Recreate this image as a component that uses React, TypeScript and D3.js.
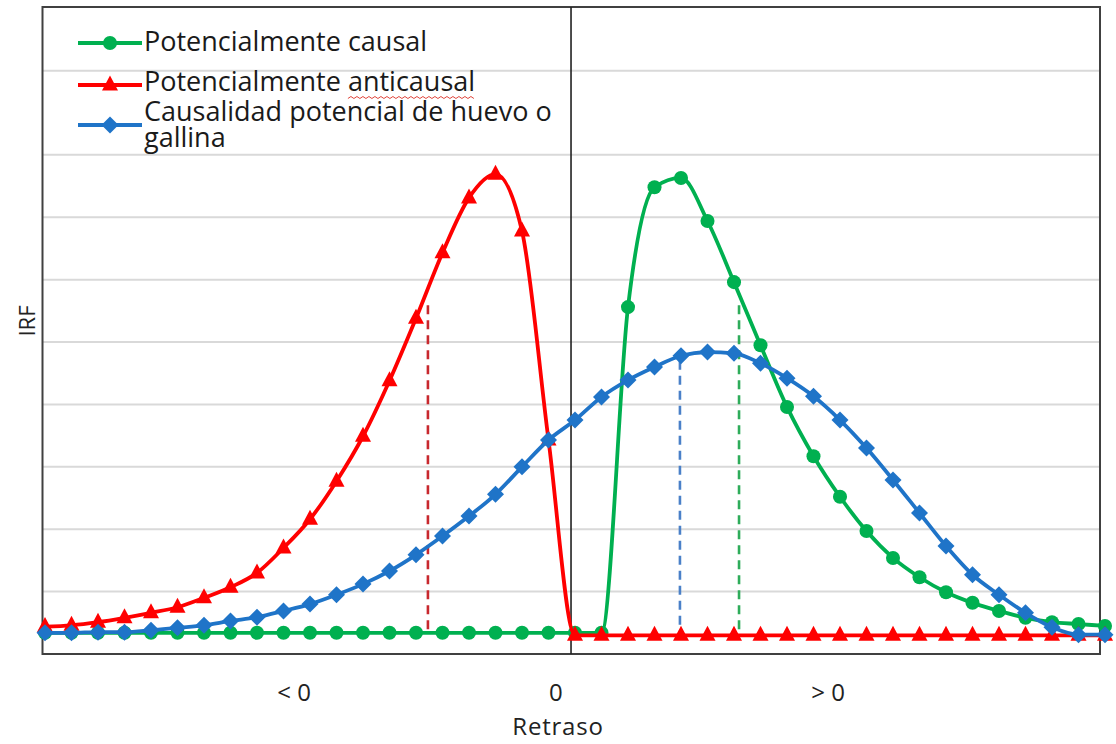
import React, { useEffect, useLayoutEffect, useRef, useState } from "react";
import * as d3 from "d3";

// lag categories (Retraso)
const lags = [
  -20, -19, -18, -17, -16, -15, -14, -13, -12, -11, -10, -9, -8, -7, -6, -5, -4, -3, -2, -1,
  0, 1, 2, 3, 4, 5, 6, 7, 8, 9, 10, 11, 12, 13, 14, 15, 16, 17, 18, 19, 20,
];

// IRF values (grid units)
const causal = [
  0.34, 0.34, 0.34, 0.34, 0.34, 0.34, 0.34, 0.34, 0.34, 0.34, 0.34, 0.34, 0.34, 0.34, 0.34, 0.34,
  0.34, 0.34, 0.34, 0.34, 0.34, 0.34, 5.56, 7.48, 7.63, 6.94, 5.96, 4.95, 3.96, 3.17, 2.52, 1.97,
  1.54, 1.23, 0.99, 0.82, 0.69, 0.58, 0.51, 0.48, 0.45,
];
const anticausal = [
  0.44, 0.46, 0.51, 0.58, 0.66, 0.75, 0.9, 1.07, 1.3, 1.7, 2.16, 2.77, 3.49, 4.38, 5.38, 6.43,
  7.31, 7.69, 6.78, 3.43, 0.3, 0.3, 0.3, 0.3, 0.3, 0.3, 0.3, 0.3, 0.3, 0.3, 0.3, 0.3, 0.3, 0.3,
  0.3, 0.3, 0.3, 0.3, 0.3, 0.3, 0.3,
];
const eggChicken = [
  0.34, 0.34, 0.35, 0.35, 0.38, 0.42, 0.46, 0.53, 0.59, 0.69, 0.8, 0.95, 1.12, 1.33, 1.59, 1.89,
  2.21, 2.56, 3.0, 3.43, 3.75, 4.12, 4.39, 4.6, 4.78, 4.84, 4.82, 4.66, 4.42, 4.13, 3.75, 3.3,
  2.79, 2.26, 1.73, 1.27, 0.95, 0.66, 0.43, 0.31, 0.31,
];

const seriesNames = [
  "Potencialmente causal",
  "Potencialmente anticausal",
  "Causalidad potencial de huevo o gallina",
];

// dashed drop lines (lag position, height)
const dropLags = [-5.55, 3.96, 6.19];
const dropTops = [5.59, 4.7, 5.59];
const dropBase = 0.34;

const gridValues = [1, 2, 3, 4, 5, 6, 7, 8, 9.35];
const xLabels = ["< 0", "0", "> 0"];
const xLabelAt = [-10.6, -0.72, 9.55];

const W = 1116;
const H = 744;
const frame = { left: 42.5, right: 1100, top: 7, bottom: 654 };
const font = "'Open Sans', sans-serif";

const colors = ["#00b050", "#ff0000", "#1f74c8"];
const dropColors = ["#c8282e", "#4a80c8", "#2eac5a"];

const circlePath = d3.symbol(d3.symbolCircle, 155)()!;
const trianglePath = "M0,-9.5L8,5.5L-8,5.5Z";
const diamondPath = "M0,-8.5L8.5,0L0,8.5L-8.5,0Z";
const markerPaths = [circlePath, trianglePath, diamondPath];

export default function App() {
  const antiRef = useRef<SVGTextElement>(null);
  const [squiggle, setSquiggle] = useState<[number, number] | null>(null);

  useEffect(() => {
    document.body.style.margin = "0";
  }, []);

  // spell-check style wavy underline under "anticausal"
  useLayoutEffect(() => {
    const el = antiRef.current;
    if (!el) return;
    const start = seriesNames[1].indexOf("anticausal");
    const x0 = el.getStartPositionOfChar(start).x;
    const len = el.getSubStringLength(start, "anticausal".length);
    setSquiggle([x0, x0 + len]);
  }, []);

  const x = d3.scaleLinear().domain([-20, 20]).range([45, 1105]);
  const y = d3.scaleLinear().domain([0, 10.37]).range([654, 7]);

  const line = d3
    .line<number>()
    .x((_, i) => x(lags[i]))
    .y((d) => y(d))
    .curve(d3.curveMonotoneX);

  const allSeries = [causal, anticausal, eggChicken];

  let wave = "";
  if (squiggle) {
    const n = Math.floor((squiggle[1] - squiggle[0]) / 3);
    for (let k = 0; k <= n; k++) {
      wave += `${k === 0 ? "M" : "L"}${squiggle[0] + k * 3},${k % 2 ? 96.5 : 98.5}`;
    }
  }

  return (
    <svg width={W} height={H} style={{ display: "block", background: "#fff" }}>
      {/* gridlines */}
      {gridValues.map((g) => (
        <line key={g} x1={frame.left} x2={frame.right} y1={y(g)} y2={y(g)} stroke="#d9d9d9" strokeWidth={2} />
      ))}
      <rect
        x={frame.left}
        y={frame.top}
        width={frame.right - frame.left}
        height={frame.bottom - frame.top}
        fill="none"
        stroke="#404040"
        strokeWidth={2}
      />
      {/* zero lag axis */}
      <line x1={x(-0.15)} x2={x(-0.15)} y1={frame.top} y2={frame.bottom} stroke="#222" strokeWidth={1.6} />

      {/* dashed drop lines */}
      {dropLags.map((l, i) => (
        <line
          key={i}
          x1={x(l)}
          x2={x(l)}
          y1={y(dropTops[i])}
          y2={y(dropBase)}
          stroke={dropColors[i]}
          strokeWidth={2.6}
          strokeDasharray="9,6"
        />
      ))}

      {/* series */}
      {allSeries.map((s, si) => (
        <g key={si}>
          <path d={line(s)!} fill="none" stroke={colors[si]} strokeWidth={3.8} />
          {s.map((v, i) => (
            <path key={i} d={markerPaths[si]} transform={`translate(${x(lags[i])},${y(v)})`} fill={colors[si]} />
          ))}
        </g>
      ))}

      {/* legend */}
      <g fontFamily={font} fontSize={27} fill="#1a1a1a">
        {[43, 85, 125].map((ly, i) => (
          <g key={i}>
            <line x1={78} x2={142} y1={ly} y2={ly} stroke={colors[i]} strokeWidth={4} />
            <path d={markerPaths[i]} transform={`translate(110,${ly})`} fill={colors[i]} />
          </g>
        ))}
        <text x={144} y={51}>{seriesNames[0]}</text>
        <text ref={antiRef} x={144} y={91}>{seriesNames[1]}</text>
        <text x={144} y={121}>Causalidad potencial de huevo o</text>
        <text x={144} y={147}>gallina</text>
        {wave && <path d={wave} fill="none" stroke="#e0443a" strokeWidth={1} />}
      </g>

      {/* axis labels */}
      <g fontFamily={font} fontSize={24} fill="#222" textAnchor="middle">
        {xLabels.map((t, i) => (
          <text key={t} x={x(xLabelAt[i])} y={701}>
            {t}
          </text>
        ))}
        <text x={558} y={735} letterSpacing={0.8}>Retraso</text>
        <text transform="translate(35,321) rotate(-90)" fontSize={22}>IRF</text>
      </g>
    </svg>
  );
}
